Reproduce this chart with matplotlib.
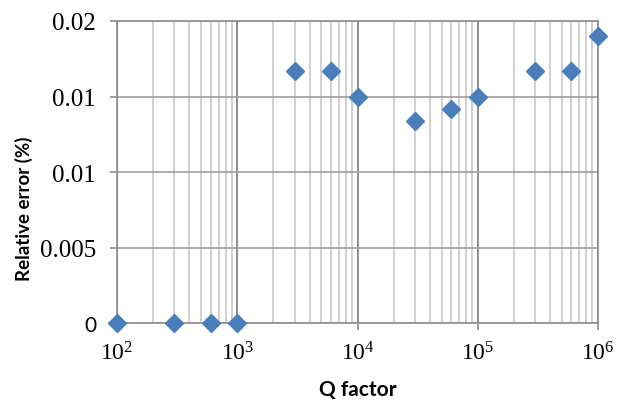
import matplotlib
matplotlib.use("Agg")
import matplotlib.pyplot as plt
from matplotlib.font_manager import FontProperties
from matplotlib.ticker import LogLocator, NullFormatter

q_factor = [1e2, 3e2, 6e2, 1e3, 3e3, 6e3, 1e4, 3e4, 6e4, 1e5, 3e5, 6e5, 1e6]
rel_error = [0.0, 0.0, 0.0, 0.0, 0.0167, 0.0167, 0.0150, 0.01335, 0.0142, 0.0150, 0.0167, 0.0167, 0.0190]
y_ticks = [0.0, 0.005, 0.01, 0.015, 0.02]
y_tick_labels = ["0", "0.005", "0.01", "0.01", "0.02"]
x_ticks = [1e2, 1e3, 1e4, 1e5, 1e6]
x_tick_labels = [r"$\mathregular{10^{2}}$", r"$\mathregular{10^{3}}$", r"$\mathregular{10^{4}}$",
                 r"$\mathregular{10^{5}}$", r"$\mathregular{10^{6}}$"]

plt.rcParams["font.family"] = "Liberation Serif"
plt.rcParams["mathtext.fontset"] = "custom"
plt.rcParams["mathtext.rm"] = "Liberation Serif"
plt.rcParams["mathtext.it"] = "Liberation Serif:italic"
plt.rcParams["mathtext.default"] = "regular"

fig = plt.figure(figsize=(6.25, 4.02), dpi=100)
ax = fig.add_axes([117/625, 1-324/402, (598-117)/625, (324-22)/402])

ax.set_xscale("log")
ax.set_xlim(1e2, 1e6)
ax.set_ylim(0, 0.02)

ax.set_xticks(x_ticks, labels=x_tick_labels, fontproperties=FontProperties(family="Liberation Serif", size=17))
ax.xaxis.set_minor_locator(LogLocator(base=10, subs=range(2, 10)))
ax.xaxis.set_minor_formatter(NullFormatter())
ax.set_yticks(y_ticks, labels=y_tick_labels, fontproperties=FontProperties(family="Liberation Serif", size=18))

ax.grid(True, which="minor", axis="x", color="#c8c8c8", lw=1.2)
ax.grid(True, which="major", axis="x", color="#8e8e8e", lw=1.4)
ax.grid(True, which="major", axis="y", color="#a0a0a0", lw=1.2)
ax.set_axisbelow(True)

for s in ax.spines.values():
    s.set_color("#8e8e8e")
    s.set_linewidth(1.2)

ax.tick_params(axis="x", which="major", length=5, width=1.2, color="#8e8e8e", direction="out", pad=8)
ax.tick_params(axis="x", which="minor", length=0)
ax.tick_params(axis="y", which="major", length=5, width=1.2, color="#8e8e8e", direction="out", pad=10)

ax.plot(q_factor, rel_error, linestyle="none", marker="D", markersize=9,
        color="#4a7ebb", clip_on=False, zorder=5)

ax.set_xlabel("Q factor", fontproperties=FontProperties(family="Lato", weight="bold", size=15), va="center")
ax.xaxis.set_label_coords(0.501, (324-390)/302)
ax.set_ylabel("Relative error (%)", fontproperties=FontProperties(family="Lato", weight="bold", size=13.5), va="center")
ax.yaxis.set_label_coords((24-117)/481, (324-209)/302)

ax.get_yticklabels()[0].set_fontproperties(FontProperties(family="Lato", size=15))

fig.savefig("out.png", dpi=100)
